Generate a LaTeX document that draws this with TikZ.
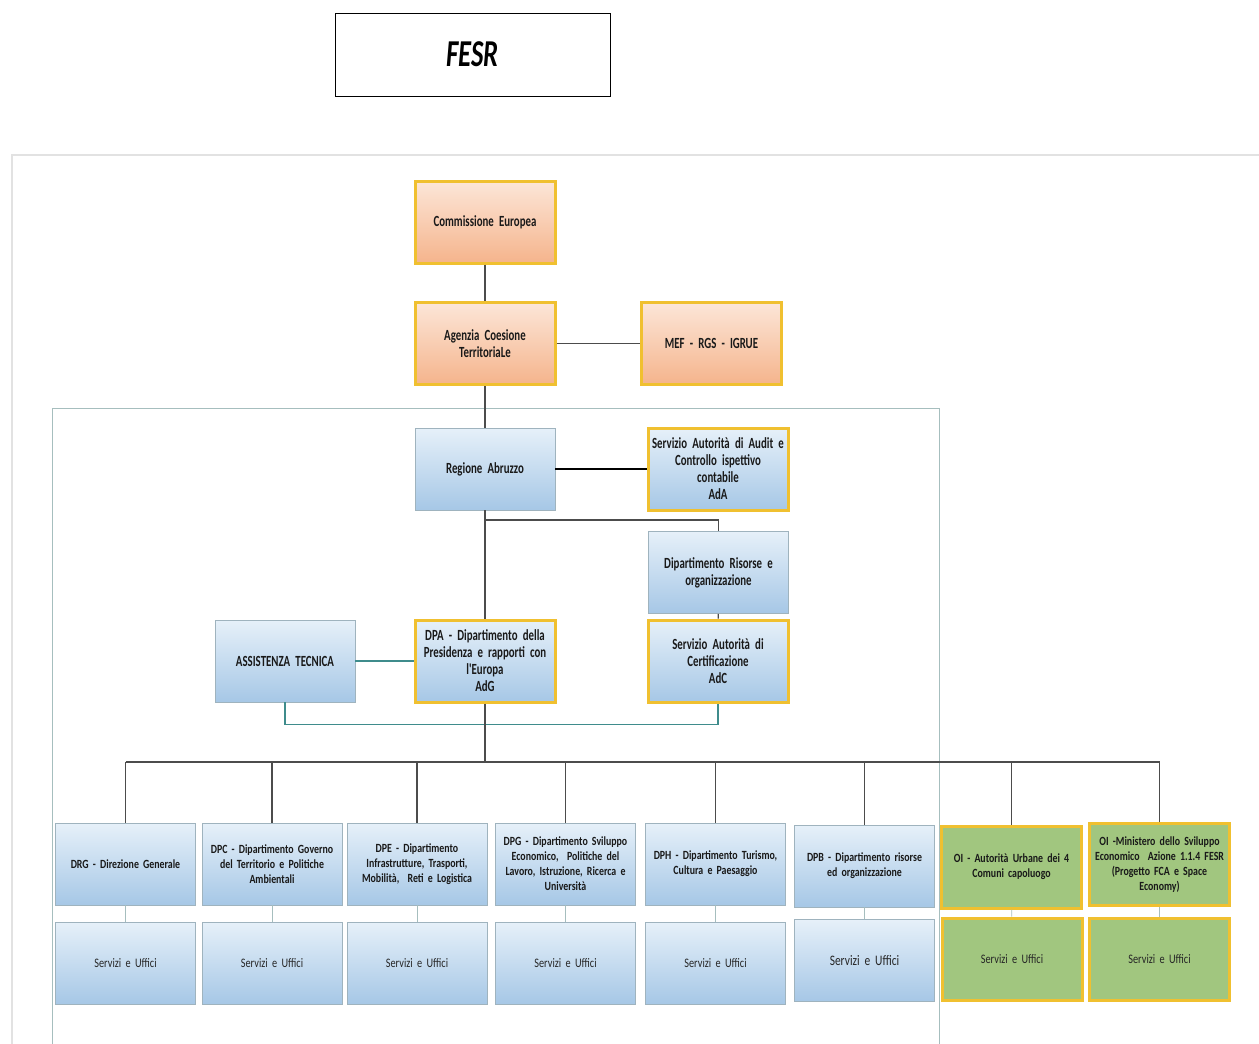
\documentclass[tikz,border=0pt]{standalone}
\usepackage{fontspec}
\setmainfont{Carlito}
\newfontfamily\narrowfont{Carlito}[FakeStretch=0.7]
\newfontfamily\lowfont{Carlito}[FakeStretch=0.79]
\newcommand\upfnt{\narrowfont\bfseries\fontsize{15.5}{17}\selectfont\spaceskip=3pt plus 1pt minus 1pt\relax}
\newcommand\lowfnt{\lowfont\bfseries\fontsize{12.5}{15}\selectfont\spaceskip=3pt plus 1pt minus 1pt\relax}
\newcommand\officefnt{\lowfont\fontsize{13}{15}\selectfont\spaceskip=3pt plus 1pt minus 1pt\relax}

\definecolor{gold}{HTML}{F0C030}
\definecolor{peachtop}{HTML}{FCE6D8}
\definecolor{peachbot}{HTML}{F5B48C}
\definecolor{bluetop}{HTML}{E6F0F9}
\definecolor{bluebot}{HTML}{A6C7E6}
\definecolor{blueedge}{HTML}{9FB3BE}
\definecolor{oigreen}{HTML}{A1C67F}
\definecolor{tealline}{HTML}{3F8C8C}
\definecolor{framegrey}{HTML}{E2E2E2}
\definecolor{frameteal}{HTML}{A6BEBE}

\begin{document}
\begin{tikzpicture}[x=1pt,y=-1pt,
  box/.style={minimum width=140pt, minimum height=82pt, inner sep=0pt,
    text width=136pt, align=center, text=black!90},
  orangebox/.style={box, font=\upfnt, draw=gold, line width=3pt,
    top color=peachtop, bottom color=peachbot},
  bluebox/.style={box, font=\upfnt, draw=blueedge, line width=0.8pt,
    top color=bluetop, bottom color=bluebot},
  goldbox/.style={bluebox, draw=gold, line width=3pt},
  deptbox/.style={bluebox, font=\lowfnt},
  oibox/.style={box, font=\lowfnt, draw=gold, line width=3pt, fill=oigreen},
  officebox/.style={deptbox, font=\officefnt, text=black!85},
  oioffice/.style={oibox, font=\officefnt, text=black!85},
  conn/.style={draw=black!70, line width=1.2pt},
  thinconn/.style={draw=frameteal, line width=0.8pt}]
\useasboundingbox (0,0) rectangle (1259,1044);

% frames
\draw[framegrey, line width=2pt] (12,1050) -- (12,155) -- (1265,155);
\draw[frameteal, line width=0.8pt] (52,1050) -- (52,408) -- (939,408) -- (939,1050);

% title
\node[draw=black, line width=1pt, minimum width=275pt, minimum height=83pt,
  font=\narrowfont\bfseries\itshape\fontsize{38}{42}\selectfont] (fesr) at (472.5,54.5) {FESR};

% upper levels
\node[orangebox] (commissione) at (485,222) {Commissione Europea};
\node[orangebox] (agenzia) at (485,343.5) {Agenzia Coesione\\TerritoriaLe};
\node[orangebox] (mef) at (711.5,343.5) {MEF - RGS - IGRUE};

\node[bluebox] (regione) at (485,469) {Regione Abruzzo};
\node[goldbox] (ada) at (718,469) {Servizio Autorità di Audit e\\Controllo ispettivo\\contabile\\AdA};
\node[bluebox] (risorse) at (718.5,572.5) {Dipartimento Risorse e\\organizzazione};
\node[goldbox] (adc) at (718,661) {Servizio Autorità di\\Certificazione\\AdC};
\node[goldbox] (dpa) at (485,661) {DPA - Dipartimento della\\Presidenza e rapporti con\\l'Europa\\AdG};
\node[bluebox] (assistenza) at (285,661) {ASSISTENZA TECNICA};

\coordinate (split) at (485,520);
\coordinate (bus) at (485,762);

\draw[conn] (commissione) -- (agenzia);
\draw[conn] (agenzia) -- (mef);
\draw[conn] (agenzia) -- (regione);
\draw[black, line width=1.6pt] (regione) -- (ada);
\draw[conn] (regione) -- (dpa);
\draw[conn] (split) -| (risorse.north);
\draw[conn] (risorse) -- (adc);
\draw[tealline, line width=1.2pt] (assistenza) -- (dpa);
\draw[tealline, line width=1.2pt] (assistenza.south) -- ++(0,22) -| (adc.south);
\draw[conn] (dpa) -- (bus);

% departments
\node[deptbox] (drg) at (125.5,864) {DRG - Direzione Generale};
\node[deptbox] (dpc) at (272,864) {DPC - Dipartimento Governo\\del Territorio e Politiche\\Ambientali};
\node[deptbox] (dpe) at (417,864) {DPE - Dipartimento\\Infrastrutture, Trasporti,\\Mobilità, \ Reti e Logistica};
\node[deptbox] (dpg) at (565.5,864) {DPG - Dipartimento Sviluppo\\Economico, \ Politiche del\\Lavoro, Istruzione, Ricerca e\\Università};
\node[deptbox] (dph) at (715.5,864) {DPH - Dipartimento Turismo,\\Cultura e Paesaggio};
\node[deptbox] (dpb) at (864.5,866) {DPB - Dipartimento risorse\\ed organizzazione};
\node[oibox] (oiau) at (1011.5,867) {OI - Autorità Urbane dei 4\\Comuni capoluogo};
\node[oibox] (oimise) at (1159.5,864.5) {OI -Ministero dello Sviluppo\\Economico \ Azione 1.1.4 FESR\\(Progetto FCA e Space\\Economy)};

\node[officebox] (drgsu) at (125.5,963) {Servizi e Uffici};
\node[officebox] (dpcsu) at (272,963) {Servizi e Uffici};
\node[officebox] (dpesu) at (417,963) {Servizi e Uffici};
\node[officebox] (dpgsu) at (565.5,963) {Servizi e Uffici};
\node[officebox] (dphsu) at (715.5,963) {Servizi e Uffici};
\node[officebox, font=\officefnt\fontsize{14.5}{16}\selectfont] (dpbsu) at (864.5,960.5) {Servizi e Uffici};
\node[oioffice] (oiausu) at (1012,959) {Servizi e Uffici};
\node[oioffice] (oimisesu) at (1159.5,959) {Servizi e Uffici};

\draw[conn] (drg.north |- bus) -- (oimise.north |- bus);
\foreach \n in {drg,dpc,dpe,dpg,dph,dpb,oiau,oimise}
  \draw[conn] (\n.north) -- (\n.north |- bus);
\foreach \n in {drg,dpc,dpe,dpg,dph,dpb,oiau,oimise}
  \draw[thinconn] (\n) -- (\n su);
\end{tikzpicture}
\end{document}
